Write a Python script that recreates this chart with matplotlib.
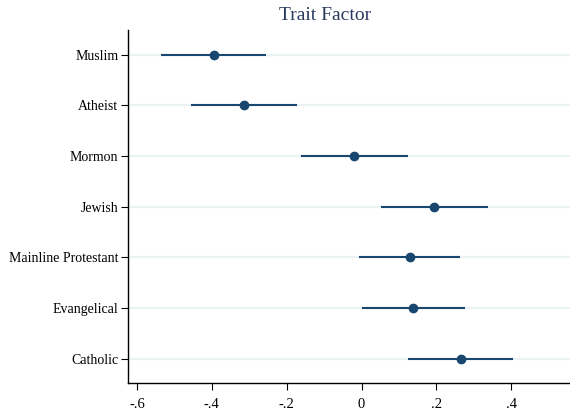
import matplotlib
matplotlib.use("Agg")
import matplotlib.pyplot as plt

# coefficient estimates with 95% CI
groups = ['Catholic', 'Evangelical', 'Mainline Protestant', 'Jewish', 'Mormon', 'Atheist', 'Muslim']
coef = [0.265, 0.138, 0.129, 0.193, -0.019, -0.314, -0.395]
ci_lo = [0.125, 0.000, -0.007, 0.051, -0.161, -0.455, -0.536]
ci_hi = [0.406, 0.276, 0.264, 0.338, 0.123, -0.173, -0.254]
xticks = [-0.6, -0.4, -0.2, 0, 0.2, 0.4]
xtick_labels = ['-.6', '-.4', '-.2', '0', '.2', '.4']

NAVY = '#1a476f'

plt.rcParams['font.family'] = ['Liberation Serif', 'DejaVu Serif']

fig = plt.figure(figsize=(5.7, 4.12), dpi=100)
ax = fig.add_axes([128/570, 29/412, 442/570, 353/412])

ypos = list(range(1, len(groups) + 1))

for y in ypos:
    ax.axhline(y, color='#eaf2f3', lw=1.6, zorder=0)

ax.hlines(ypos, ci_lo, ci_hi, color=NAVY, lw=1.5, zorder=2)
ax.plot(coef, ypos, 'o', color=NAVY, ms=6, zorder=3)

ax.set_xlim(-0.624, 0.557)
ax.set_ylim(0.52, 7.49)
ax.set_yticks(ypos)
ax.set_yticklabels(groups, fontsize=10)
ax.set_xticks(xticks)
ax.set_xticklabels(xtick_labels, fontsize=10.5)

for s in ['top', 'right']:
    ax.spines[s].set_visible(False)
for s in ['left', 'bottom']:
    ax.spines[s].set_linewidth(1.0)
    ax.spines[s].set_color('black')
ax.tick_params(axis='both', direction='out', length=5, width=0.8, colors='black')
ax.tick_params(axis='y', pad=2)
ax.tick_params(axis='x', pad=6)

# title is centred a bit left of the axes centre, as in the source
fig.text(325/570, 1 - 16/412, 'Trait Factor', fontsize=14, color='#2a3a5e',
         ha='center', va='center')

fig.savefig('out.png', dpi=100, facecolor='white')
